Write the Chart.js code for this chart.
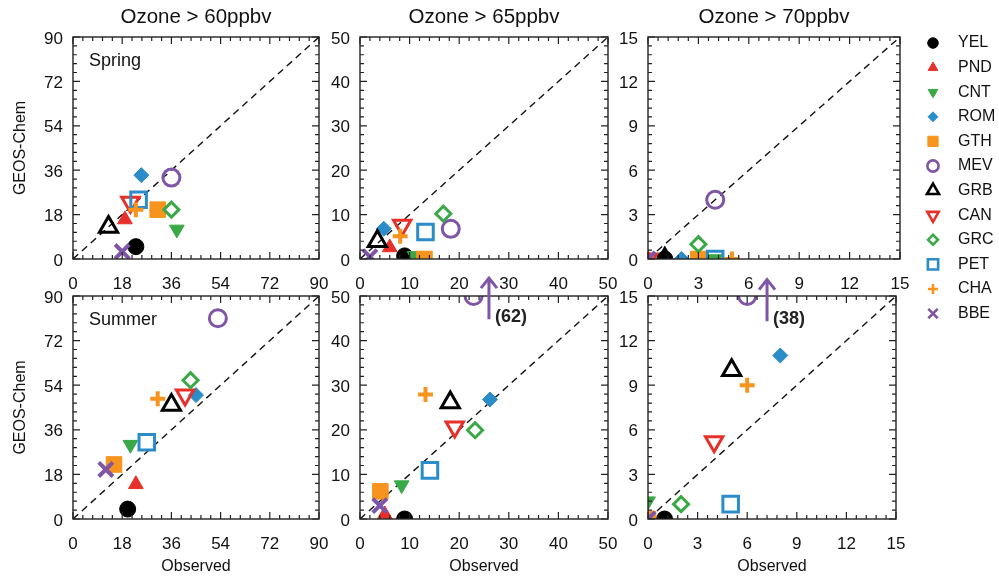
<!DOCTYPE html>
<html>
<head>
<meta charset="utf-8">
<script src="https://cdn.jsdelivr.net/npm/chart.js@4.4.1/dist/chart.umd.min.js"></script>
<style>
html,body{margin:0;padding:0;background:#fff}
#fig{position:relative;width:999px;height:579px;overflow:hidden;background:#fff}
#fig canvas{position:absolute}
</style>
</head>
<body>
<div id="fig"></div>
<script>

// sites, in plotting order (later ones end up on top)
const sites = ["YEL","PND","CNT","ROM","GTH","MEV","GRB","CAN","GRC","PET","CHA","BBE"]

// hours above threshold: observed (x) vs GEOS-Chem (y)
const spring60Obs = [23, 19, 38, 25, 31, 36, 13, 21, 36, 24, 23, 18]
const spring60Mod = [5, 16, 12, 34, 20, 33, 13, 23, 20, 24, 20, 3]
const spring65Obs = [9, 6, 11, 4.8, 13, 18.3, 3.5, 8.5, 16.8, 13.2, 8.1, 2]
const spring65Mod = [0.7, 2.6, 0.7, 6.8, 0, 6.8, 4, 7.6, 10.2, 6.1, 5.1, 0.5]
const spring70Obs = [1, 0, 4, 2, 3, 4, 1, 0, 3, 4, 5, 0]
const spring70Mod = [0, 0, 0, 0, 0, 4, 0, 0, 1, 0, 0, 0]
const summer60Obs = [20, 23, 21, 45, 15, 53, 36, 41, 43, 27, 31, 12]
const summer60Mod = [4, 14, 30, 50, 22, 81, 46, 50, 56, 31, 48.5, 20]
const summer65Obs = [9, 5, 8.4, 26.2, 4.1, 22.9, 18.2, 19.1, 23.2, 14.1, 13.2, 4]
const summer65Mod = [0, 1, 7.6, 26.8, 6.2, 50, 26.1, 20.6, 19.9, 10.9, 27.9, 3]
const summer70Obs = [1, 0, 0, 8, 0, 6, 5.06, 4, 2, 5, 6, 0]
const summer70Mod = [0, 0, 1.2, 11, 0, 15, 10, 5.2, 1, 1, 9, 0]

const thresholds = ["Ozone > 60ppbv", "Ozone > 65ppbv", "Ozone > 70ppbv"]
const axisMax = [90, 50, 15]
const tickStep = [18, 10, 3]
const seasons = ["Spring", "Summer"]

// summer MEV is off the top of the 65 and 70 panels
const offScaleText = ["(62)", "(38)"]
const offScaleX = [26, 7.2]
const offScaleFrom = [44.8, 13.3]
const offScaleTo = [54, 16.1]

// marker styles
const siteColor = ["#000000","#e8302a","#3aa846","#2a8cc8","#f7941d","#7f55a8","#000000","#e8302a","#3aa846","#2a8cc8","#f7941d","#7f55a8"]
const siteShape = ["circle","triangle","triangle","rectRot","rect","circle","triangle","triangle","rectRot","rect","cross","crossRot"]
const siteTurn = [0,0,180,0,0,0,0,180,0,0,0,0]
const siteFill = [1,1,1,1,1,0,0,0,0,0,0,0]
const siteLine = [1,1,1,1,1,3,3,3,3,3,4,4]
const siteSize = [8,8.5,8.5,7.5,11,8.5,10.5,10,7.5,11,7.5,10]

const FONT = "'Liberation Sans', Arial, Helvetica, sans-serif"
const INK = "#111"

const colLeft = [73, 360, 648]
const colRight = [323, 612, 900]
const rowTop = [37, 296]
const rowBottom = [259, 519]

const panelObs = [[spring60Obs, spring65Obs, spring70Obs], [summer60Obs, summer65Obs, summer70Obs]]
const panelMod = [[spring60Mod, spring65Mod, spring70Mod], [summer60Mod, summer65Mod, summer70Mod]]

function makePanel(row, col){

const fig = document.getElementById("fig")
const canvas = document.createElement("canvas")
const yW = col === 0 ? 73 : 40
const padTop = 36
const padRight = (row === 0 && col === 2) ? 99 : 10
const xH = 60
const w = yW + colRight[col] - colLeft[col] + padRight
const h = padTop + rowBottom[row] - rowTop[row] + xH
canvas.width = w
canvas.height = h
canvas.style.left = (colLeft[col] - yW) + "px"
canvas.style.top = (rowTop[row] - padTop) + "px"
canvas.style.width = w + "px"
canvas.style.height = h + "px"
fig.appendChild(canvas)

const max = axisMax[col]
const step = tickStep[col]
const obs = panelObs[row][col]
const mod = panelMod[row][col]

const datasets = sites.map((name, i) => ({
label: name,
data: [{x: obs[i], y: mod[i]}],
pointStyle: siteShape[i],
pointRotation: siteTurn[i],
pointRadius: siteSize[i],
pointBackgroundColor: siteFill[i] ? siteColor[i] : "rgba(0,0,0,0)",
pointBorderColor: siteColor[i],
pointBorderWidth: siteLine[i],
order: -i,
clip: 0
}))

// 1:1 line
datasets.push({
label: "1:1",
data: [{x: 0, y: 0}, {x: max, y: max}],
showLine: true,
borderColor: INK,
borderWidth: 1.4,
borderDash: [7, 5],
pointRadius: 0,
order: 5,
clip: 0
})

// frame with inward major and minor ticks on all four sides
const frameTicks = {
id: "frameTicks",
afterDatasetsDraw(chart){
const {ctx, chartArea: a, scales} = chart
ctx.save()
ctx.strokeStyle = "#222"
ctx.lineWidth = 1.4
ctx.strokeRect(a.left, a.top, a.right - a.left, a.bottom - a.top)
ctx.lineWidth = 1.2
ctx.beginPath()
const n = Math.round(max / step) * 5
for(let k = 0; k <= n; k++){
const v = k * step / 5
const len = k % 5 === 0 ? 7 : 4
const px = scales.x.getPixelForValue(v)
const py = scales.y.getPixelForValue(v)
ctx.moveTo(px, a.bottom); ctx.lineTo(px, a.bottom - len)
ctx.moveTo(px, a.top); ctx.lineTo(px, a.top + len)
ctx.moveTo(a.left, py); ctx.lineTo(a.left + len, py)
ctx.moveTo(a.right, py); ctx.lineTo(a.right - len, py)
}
ctx.stroke()
ctx.restore()
}
}

const panelText = {
id: "panelText",
afterDraw(chart){
const {ctx, chartArea: a, scales} = chart
ctx.save()
ctx.fillStyle = INK
ctx.textBaseline = "middle"
if(row === 0){
ctx.font = "20.5px " + FONT
ctx.textAlign = "center"
ctx.fillText(thresholds[col], (a.left + a.right) / 2, a.top - 20)
}
if(col === 0){
ctx.font = "18px " + FONT
ctx.textAlign = "left"
ctx.fillText(seasons[row], a.left + 16, a.top + 24)
}
// off-scale arrow for summer MEV
if(row === 1 && col > 0){
const k = col - 1
const px = scales.x.getPixelForValue(offScaleX[k])
const y0 = scales.y.getPixelForValue(offScaleFrom[k])
const y1 = scales.y.getPixelForValue(offScaleTo[k])
ctx.strokeStyle = siteColor[5]
ctx.lineWidth = 3
ctx.beginPath()
ctx.moveTo(px, y0); ctx.lineTo(px, y1)
ctx.moveTo(px - 8, y1 + 10); ctx.lineTo(px, y1); ctx.lineTo(px + 8, y1 + 10)
ctx.stroke()
ctx.fillStyle = "#222"
ctx.font = "bold 18px " + FONT
ctx.textAlign = "left"
ctx.fillText(offScaleText[k], px + 6, y0 - 2)
}
// site legend to the right of the top-right panel
if(row === 0 && col === 2){
const drawPoint = Chart.helpers && Chart.helpers.drawPoint
sites.forEach((name, i) => {
const ly = a.top + 6 + i * 24.6
ctx.fillStyle = siteFill[i] ? siteColor[i] : "rgba(0,0,0,0)"
ctx.strokeStyle = siteColor[i]
ctx.lineWidth = siteFill[i] ? 1 : 2.6
if(drawPoint){
drawPoint(ctx, {pointStyle: siteShape[i], rotation: siteTurn[i], radius: siteSize[i] * 0.66, borderWidth: ctx.lineWidth}, a.right + 33, ly)
}
ctx.fillStyle = INK
ctx.font = "16px " + FONT
ctx.textAlign = "left"
ctx.fillText(name, a.right + 58, ly)
})
}
ctx.restore()
}
}

new Chart(canvas, {
type: "scatter",
data: {datasets},
options: {
responsive: false,
animation: false,
events: [],
devicePixelRatio: 1,
layout: {padding: {left: 0, top: padTop, right: padRight, bottom: 0}},
plugins: {legend: {display: false}, tooltip: {enabled: false}},
scales: {
x: {
type: "linear", min: 0, max: max,
ticks: {stepSize: step, color: INK, font: {family: FONT, size: 17}, padding: 15, maxRotation: 0, autoSkip: false},
grid: {display: false, drawTicks: false},
border: {display: false},
title: {display: row === 1, text: "Observed", color: INK, font: {family: FONT, size: 16}, padding: {top: 0, bottom: 3}},
afterFit(s){ s.height = xH; s.paddingLeft = 0; s.paddingRight = 0 }
},
y: {
type: "linear", min: 0, max: max,
ticks: {stepSize: step, color: INK, font: {family: FONT, size: 17}, padding: 10, labelOffset: 2, autoSkip: false},
grid: {display: false, drawTicks: false},
border: {display: false},
title: {display: col === 0, text: "GEOS-Chem", color: INK, font: {family: FONT, size: 16}, padding: {top: 11, bottom: 0}},
afterFit(s){ s.width = yW; s.paddingTop = 0; s.paddingBottom = 0 }
}
}
},
plugins: [frameTicks, panelText]
})

}

for(let row = 0; row < 2; row++){
for(let col = 0; col < 3; col++){
makePanel(row, col)
}
}

</script>
</body>
</html>
